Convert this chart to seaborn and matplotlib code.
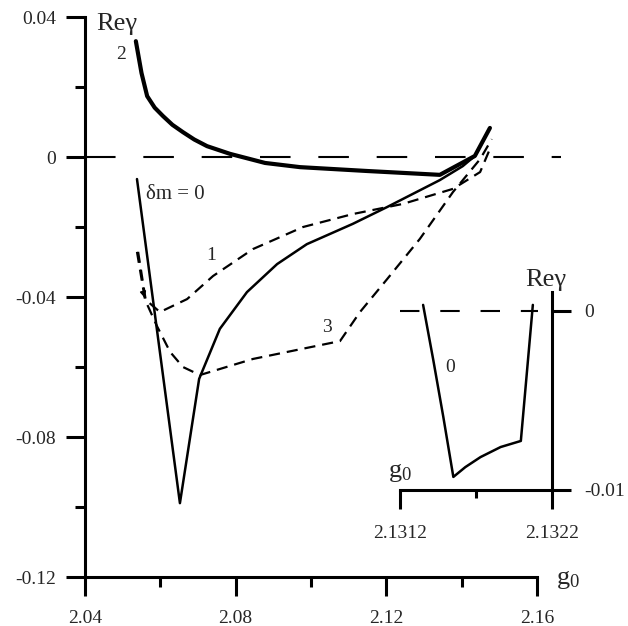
import matplotlib
matplotlib.use("Agg")
import matplotlib.pyplot as plt
import seaborn as sns
import numpy as np

# ---- data ----
c2_x = [2.0535, 2.0550, 2.0565, 2.0585, 2.0607, 2.0632, 2.0660, 2.0690, 2.0724, 2.0785, 2.0878, 2.0971, 2.1149, 2.1342, 2.1435, 2.1475]
c2_y = [0.0331, 0.0240, 0.0174, 0.0141, 0.0117, 0.0092, 0.0071, 0.0050, 0.0031, 0.0009, -0.0017, -0.0029, -0.0040, -0.0051, 0.0003, 0.0083]

c0_x = [2.0538, 2.0652, 2.0703, 2.0758, 2.0830, 2.0910, 2.0989, 2.1111, 2.1202, 2.1342, 2.1403, 2.1435, 2.1475]
c0_y = [-0.0063, -0.0989, -0.0634, -0.0491, -0.0386, -0.0306, -0.0249, -0.0191, -0.0143, -0.0066, -0.0026, 0.0003, 0.0083]

c1_x = [2.0538, 2.0559, 2.0599, 2.0671, 2.0740, 2.0846, 2.0979, 2.1111, 2.1244, 2.1377, 2.1449, 2.1475]
c1_y = [-0.0271, -0.0406, -0.0443, -0.0406, -0.0340, -0.0263, -0.0200, -0.0163, -0.0134, -0.0091, -0.0043, 0.0023]

c3_x = [2.0541, 2.0562, 2.0591, 2.0626, 2.0660, 2.0705, 2.0846, 2.1077, 2.1130, 2.1202, 2.1289, 2.1377, 2.1449, 2.1480]
c3_y = [-0.0271, -0.0414, -0.0483, -0.0557, -0.0600, -0.0623, -0.0577, -0.0526, -0.0443, -0.0349, -0.0234, -0.0100, -0.0006, 0.0051]

ins_x = [2.131352, 2.131419, 2.131485, 2.131551, 2.131630, 2.131730, 2.131862, 2.131995, 2.132074]
ins_y = [0.00034, -0.00274, -0.00592, -0.00927, -0.00872, -0.00816, -0.00760, -0.00726, 0.00034]

x_major = [2.04, 2.08, 2.12, 2.16]
x_major_labels = ["2.04", "2.08", "2.12", "2.16"]
x_minor = [2.06, 2.10, 2.14]
y_major = [-0.12, -0.08, -0.04, 0.0, 0.04]
y_major_labels = ["-0.12", "-0.08", "-0.04", "0", "0.04"]
y_minor = [-0.10, -0.06, -0.02, 0.02]

ins_x_major = [2.1312, 2.1322]
ins_x_labels = ["2.1312", "2.1322"]
ins_x_minor = [2.1317]
ins_y_major = [-0.01, 0.0]
ins_y_labels = ["-0.01", "0"]

# ---- style ----
sns.set_style("white")
plt.rcParams['font.family'] = ['Liberation Serif', 'DejaVu Serif']
plt.rcParams['mathtext.default'] = 'regular'
plt.rcParams['lines.scale_dashes'] = False
plt.rcParams['axes.unicode_minus'] = False

fig = plt.figure(figsize=(6.28, 6.26), dpi=100)
ax = fig.add_axes([85/628, 1 - 577/626, 452/628, 560/626])
ax.patch.set_visible(False)

sns.lineplot(x=c2_x, y=c2_y, ax=ax, sort=False, estimator=None, color='black', lw=3.0)
sns.lineplot(x=c0_x, y=c0_y, ax=ax, sort=False, estimator=None, color='black', lw=1.8)
sns.lineplot(x=c1_x, y=c1_y, ax=ax, sort=False, estimator=None, color='black', lw=1.6,
             linestyle=(0, (8, 5)))
sns.lineplot(x=c3_x, y=c3_y, ax=ax, sort=False, estimator=None, color='black', lw=1.6,
             linestyle=(0, (8, 5)))
ax.plot([2.04, 2.1665], [0, 0], color='black', lw=1.5, linestyle=(0, (22, 20)), clip_on=False)
ax.annotate('', xy=(2.0560, -0.0410), xytext=(2.0553, -0.0380),
            arrowprops=dict(arrowstyle='-|>', color='black', lw=1, mutation_scale=9))

ax.set_xlim(2.04, 2.16)
ax.set_ylim(-0.12, 0.04)
for s in ['top', 'right']:
    ax.spines[s].set_visible(False)
for s in ['left', 'bottom']:
    ax.spines[s].set_linewidth(2.2)
    ax.spines[s].set_color('black')
ax.set_xticks(x_major)
ax.set_xticklabels(x_major_labels)
ax.set_xticks(x_minor, minor=True)
ax.set_yticks(y_major)
ax.set_yticklabels(y_major_labels)
ax.set_yticks(y_minor, minor=True)
ax.tick_params(axis='both', which='both', bottom=True, left=True, top=False, right=False)
ax.tick_params(axis='both', which='major', direction='out', length=14, width=2.2, labelsize=14, color='black')
ax.tick_params(axis='both', which='minor', direction='out', length=7, width=2.2, color='black')
ax.tick_params(axis='x', which='major', pad=10)
ax.tick_params(axis='y', which='major', pad=7)

ax.text(2.0429, 0.038, "Reγ", fontsize=19, ha='left', va='center')
ax.text(2.0496, 0.0294, "2", fontsize=14, ha='center', va='center')
ax.text(2.0562, -0.0106, "δm = 0", fontsize=15, ha='left', va='center')
ax.text(2.0734, -0.0280, "1", fontsize=14, ha='center', va='center')
ax.text(2.1042, -0.0486, "3", fontsize=14, ha='center', va='center')
ax.text(2.1682, -0.1206, "g$_0$", fontsize=19, ha='center', va='center', clip_on=False)

# ---- inset ----
ax2 = fig.add_axes([400/628, 1 - 490/626, 152/628, 198/626])
ax2.patch.set_visible(False)
sns.lineplot(x=ins_x, y=ins_y, ax=ax2, sort=False, estimator=None, color='black', lw=1.8)
ax2.plot([2.1312, 2.13211], [0, 0], color='black', lw=1.5, linestyle=(0, (14, 15)))
ax2.set_xlim(2.1312, 2.1322)
ax2.set_ylim(-0.01, 0.00106)
for s in ['top', 'left']:
    ax2.spines[s].set_visible(False)
for s in ['right', 'bottom']:
    ax2.spines[s].set_linewidth(2.2)
    ax2.spines[s].set_color('black')
ax2.yaxis.tick_right()
ax2.set_xticks(ins_x_major)
ax2.set_xticklabels(ins_x_labels)
ax2.set_xticks(ins_x_minor, minor=True)
ax2.set_yticks(ins_y_major)
ax2.set_yticklabels(ins_y_labels)
ax2.tick_params(axis='both', which='both', bottom=True, right=True, left=False, top=False,
                labelright=True, labelleft=False)
ax2.tick_params(axis='both', which='major', direction='out', length=14, width=2.2, labelsize=14, color='black')
ax2.tick_params(axis='both', which='minor', direction='out', length=6, width=2.2, color='black')
ax2.tick_params(axis='x', which='major', pad=11)
ax2.tick_params(axis='y', which='major', pad=9)
ax2.text(2.13153, -0.00313, "0", fontsize=14, ha='center', va='center')
ax2.text(2.13216, 0.00175, "Reγ", fontsize=19, ha='center', va='center', clip_on=False)
ax2.text(2.1312, -0.0090, "g$_0$", fontsize=19, ha='center', va='center', clip_on=False)

fig.savefig("out.png", dpi=100)
